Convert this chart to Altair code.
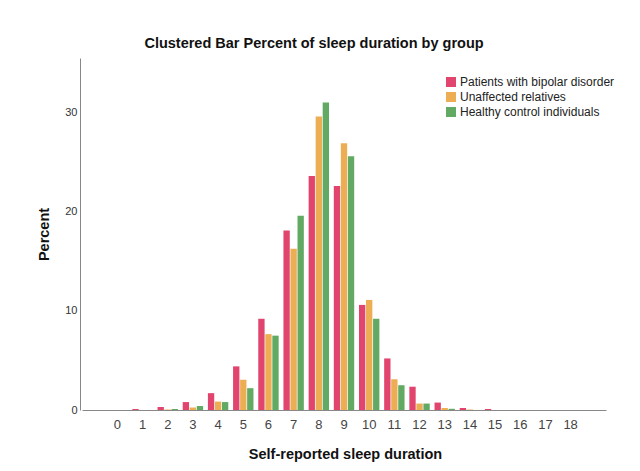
import altair as alt
import pandas as pd

hours = list(range(19))
groups = ["Patients with bipolar disorder", "Unaffected relatives", "Healthy control individuals"]
colors = ["#E1456E", "#ECAD53", "#62AA63"]

bipolar = [0.0, 0.1, 0.3, 0.8, 1.7, 4.4, 9.2, 18.1, 23.6, 22.6, 10.6, 5.2, 2.35, 0.75, 0.2, 0.1, 0.0, 0.0, 0.0]
relatives = [0.0, 0.0, 0.05, 0.25, 0.85, 3.05, 7.65, 16.25, 29.6, 26.9, 11.1, 3.1, 0.65, 0.2, 0.05, 0.0, 0.0, 0.0, 0.0]
controls = [0.0, 0.0, 0.1, 0.4, 0.8, 2.2, 7.5, 19.6, 31.0, 25.6, 9.2, 2.5, 0.65, 0.12, 0.0, 0.0, 0.0, 0.0, 0.0]

rows = []
for series, vals in zip(groups, [bipolar, relatives, controls]):
    for h, v in zip(hours, vals):
        rows.append({"hours": h, "group": series, "percent": v})
df = pd.DataFrame(rows)

font = "Liberation Sans"

chart = alt.Chart(df).mark_bar().encode(
    x=alt.X(
        "hours:O",
        sort=hours,
        scale=alt.Scale(paddingInner=0.19, paddingOuter=1, range=[2, 526]),
        axis=alt.Axis(
            title="Self-reported sleep duration",
            labelAngle=0,
            ticks=False,
            labelPadding=8,
            labelFontSize=13,
            labelColor="#444444",
            labelFont=font,
            domainColor="#888888",
            titleFont=font,
            titleFontSize=14.5,
            titleFontWeight="bold",
            titleColor="#111111",
            titleX=265,
            titleY=44,
            titleBaseline="middle",
        ),
    ),
    xOffset=alt.XOffset("group:N", sort=groups, scale=alt.Scale(paddingInner=0.1)),
    y=alt.Y(
        "percent:Q",
        scale=alt.Scale(domain=[0, 35.5], nice=False),
        axis=alt.Axis(
            title="Percent",
            values=[0, 10, 20, 30],
            grid=False,
            ticks=False,
            labelPadding=3,
            labelFontSize=11,
            labelColor="#333333",
            labelFont=font,
            domainColor="#888888",
            titleFont=font,
            titleFontSize=14.5,
            titleFontWeight="bold",
            titleColor="#111111",
            titleX=-36,
            titleBaseline="middle",
        ),
    ),
    color=alt.Color(
        "group:N",
        sort=groups,
        scale=alt.Scale(domain=groups, range=colors),
        legend=alt.Legend(
            title=None,
            orient="none",
            legendX=365,
            legendY=18,
            symbolType="square",
            symbolSize=100,
            symbolStrokeWidth=0,
            symbolOpacity=1,
            labelFont=font,
            labelFontSize=12,
            labelColor="#222222",
            labelOffset=3,
            rowPadding=3,
            padding=0,
        ),
    ),
).properties(
    width=528,
    height=352,
    title=alt.TitleParams(
        "Clustered Bar Percent of sleep duration by group",
        font=font,
        fontSize=14.5,
        fontWeight="bold",
        color="#111111",
        anchor="middle",
        dx=-30,
        offset=7,
    ),
    autosize=alt.AutoSizeParams(type="none"),
    padding={"left": 72, "top": 50, "right": 10, "bottom": 60},
).configure_view(stroke=None)

chart.save("out.html", embed_options={"renderer": "svg", "actions": False})
